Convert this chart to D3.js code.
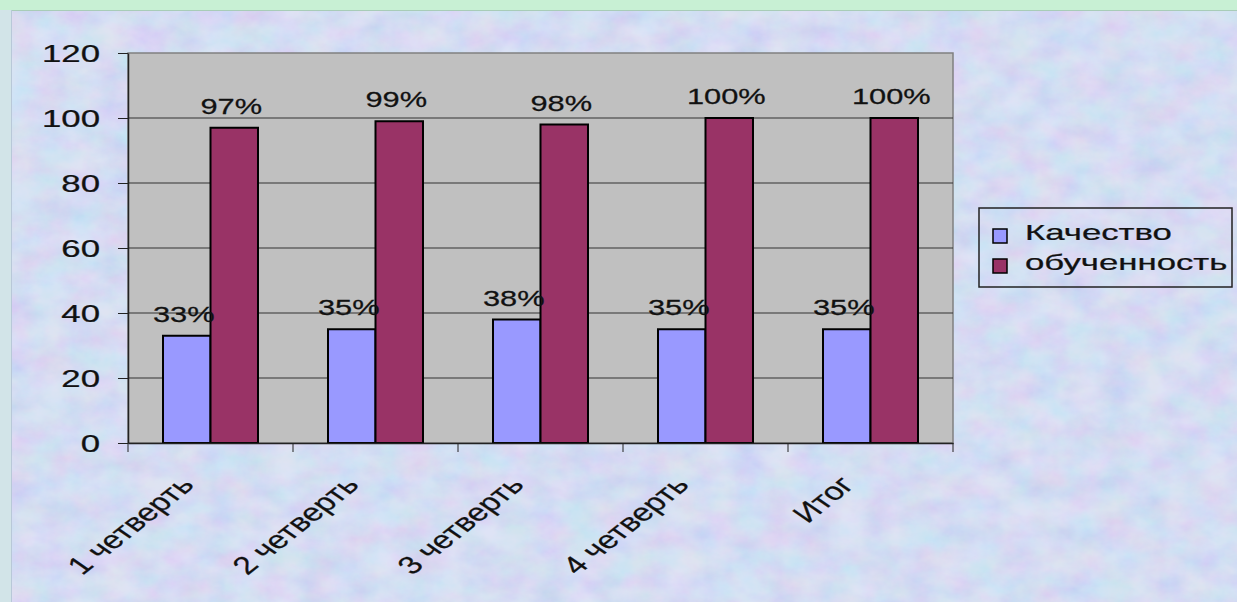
<!DOCTYPE html>
<html>
<head>
  <meta charset="utf-8">
  <title>Качество и обученность по четвертям</title>
  <script src="https://d3js.org/d3.v7.min.js"></script>
  <style>
    html, body { margin: 0; padding: 0; background: #c8f0d4; }
    svg { display: block; font-family: "Liberation Sans", Arial, sans-serif; }
    svg text { stroke: #111; stroke-width: 0.25px; }
  </style>
</head>
<body>
  <div id="chart"></div>

  <script>
    // chart data
    const categories = ["1 четверть", "2 четверть", "3 четверть", "4 четверть", "Итог"];
    const seriesNames = ["Качество", "обученность"];
    const kachestvo = [33, 35, 38, 35, 35];
    const obuchennost = [97, 99, 98, 100, 100];
    const yTicks = [0, 20, 40, 60, 80, 100, 120];

    const colors = { "Качество": "#9999ff", "обученность": "#993366" };
    const W = 1237, H = 602;
    const plot = { left: 128, right: 953, top: 53, bottom: 443 };
    const SX = 1.4; // the picture is stretched horizontally

    const rows = categories.map((c, i) => ({
      cat: c,
      values: [
        { key: seriesNames[0], value: kachestvo[i] },
        { key: seriesNames[1], value: obuchennost[i] }
      ]
    }));

    const svg = d3.select("#chart").append("svg")
      .attr("width", W)
      .attr("height", H);

    // textured pastel background
    const defs = svg.append("defs");
    const f = defs.append("filter").attr("id", "tex")
      .attr("x", 0).attr("y", 0).attr("width", 1).attr("height", 1);
    f.append("feTurbulence")
      .attr("type", "fractalNoise")
      .attr("baseFrequency", "0.03 0.04")
      .attr("numOctaves", 5)
      .attr("seed", 3);
    f.append("feColorMatrix")
      .attr("type", "matrix")
      .attr("values", "0.8 0 0 0 0.4  0 0.7 0 0 0.5  0 0 0.3 0 0.76  0 0 0 0 0.38");

    svg.append("rect").attr("width", W).attr("height", H).attr("fill", "#c8f0d4");
    svg.append("rect").attr("x", 0).attr("y", 10).attr("width", 11).attr("height", H - 10).attr("fill", "#d2e4e8");
    svg.append("rect")
      .attr("x", 11).attr("y", 10).attr("width", W - 11).attr("height", H - 10)
      .attr("fill", "#c9d2f1");
    svg.append("rect")
      .attr("x", 11).attr("y", 10).attr("width", W - 11).attr("height", H - 10)
      .attr("filter", "url(#tex)");
    svg.append("line")
      .attr("x1", 11).attr("x2", W).attr("y1", 10.5).attr("y2", 10.5)
      .attr("stroke", "#a8ccb8");
    svg.append("line")
      .attr("x1", 11.5).attr("x2", 11.5).attr("y1", 10).attr("y2", H)
      .attr("stroke", "#b8c8d8");

    // scales
    const x = d3.scaleBand()
      .domain(categories)
      .range([plot.left, plot.right])
      .padding(0);

    const x1 = d3.scaleBand()
      .domain(seriesNames)
      .range([0, x.bandwidth()])
      .paddingInner(0)
      .paddingOuter(0.737);

    const y = d3.scaleLinear()
      .domain([0, 120])
      .range([plot.bottom, plot.top]);

    // plot area
    svg.append("rect")
      .attr("x", plot.left).attr("y", plot.top)
      .attr("width", plot.right - plot.left)
      .attr("height", plot.bottom - plot.top)
      .attr("fill", "#c0c0c0")
      .attr("stroke", "#808080")
      .attr("stroke-width", 1.5);

    // gridlines
    svg.append("g")
      .selectAll("line")
      .data(yTicks.filter(t => t > 0 && t < 120))
      .enter().append("line")
      .attr("x1", plot.left).attr("x2", plot.right)
      .attr("y1", d => y(d)).attr("y2", d => y(d))
      .attr("stroke", "#333")
      .attr("stroke-width", 1);

    // bars
    const groups = svg.append("g")
      .selectAll("g")
      .data(rows)
      .enter().append("g")
      .attr("transform", d => `translate(${x(d.cat)},0)`);

    groups.selectAll("rect")
      .data(d => d.values)
      .enter().append("rect")
      .attr("x", d => x1(d.key))
      .attr("y", d => y(d.value))
      .attr("width", x1.bandwidth())
      .attr("height", d => y(0) - y(d.value))
      .attr("fill", d => colors[d.key])
      .attr("stroke", "#000")
      .attr("stroke-width", 2);

    // value labels
    groups.selectAll("text")
      .data(d => d.values)
      .enter().append("text")
      .attr("transform", d => `translate(${x1(d.key) + x1.bandwidth() / 2 - 3},${y(d.value) - 14}) scale(${SX},1)`)
      .attr("text-anchor", "middle")
      .attr("font-size", 22)
      .attr("fill", "#111")
      .text(d => d.value + "%");

    // y axis
    const yAxis = svg.append("g")
      .attr("transform", `translate(${plot.left},0)`)
      .call(d3.axisLeft(y).tickValues(yTicks).tickSize(10).tickSizeOuter(0));
    yAxis.select(".domain").attr("stroke", "#222").attr("stroke-width", 1.5);
    yAxis.selectAll(".tick line").attr("stroke", "#222");
    yAxis.selectAll(".tick text")
      .attr("x", null)
      .attr("dy", "0.36em")
      .attr("transform", `translate(-28,0) scale(1.45,1)`)
      .attr("font-size", 24)
      .attr("fill", "#111");

    // x axis
    const xAxis = svg.append("g")
      .attr("transform", `translate(0,${plot.bottom})`)
      .call(d3.axisBottom(x).tickSize(0).tickSizeOuter(0));
    xAxis.select(".domain").attr("stroke", "#222").attr("stroke-width", 1.5);
    xAxis.selectAll(".tick text")
      .attr("y", null)
      .attr("dy", null)
      .attr("text-anchor", "end")
      .attr("transform", `translate(-15,43) scale(1.35,1) rotate(-47)`)
      .attr("font-size", 25)
      .attr("fill", "#111");

    // category boundary ticks
    xAxis.append("g")
      .selectAll("line")
      .data(categories.map(c => x(c)).concat([x.range()[1]]))
      .enter().append("line")
      .attr("x1", d => d).attr("x2", d => d)
      .attr("y1", 0).attr("y2", 9)
      .attr("stroke", "#222");

    // legend
    const legend = svg.append("g").attr("transform", "translate(979,208)");
    legend.append("rect")
      .attr("width", 253).attr("height", 79)
      .attr("fill", "none")
      .attr("stroke", "#222")
      .attr("stroke-width", 1.5);

    const items = legend.selectAll("g.item")
      .data(seriesNames)
      .enter().append("g")
      .attr("class", "item")
      .attr("transform", (d, i) => `translate(14,${21 + i * 30})`);

    items.append("rect")
      .attr("width", 14).attr("height", 14)
      .attr("fill", d => colors[d])
      .attr("stroke", "#000")
      .attr("stroke-width", 1.5);

    items.append("text")
      .attr("transform", `translate(32,11) scale(1.58,1)`)
      .attr("font-size", 22)
      .attr("fill", "#111")
      .text(d => d);
  </script>
</body>
</html>
